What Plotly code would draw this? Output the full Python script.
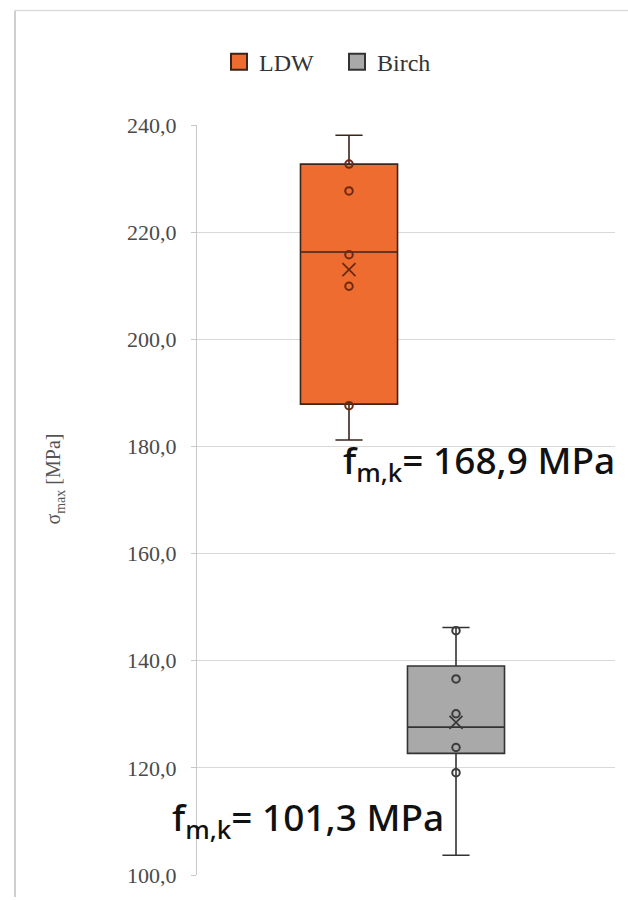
import plotly.graph_objects as go

# Bending strength results, box statistics per material (MPa)
series = ["LDW", "Birch"]
q1 = [187.9, 122.7]
median = [216.3, 127.6]
q3 = [232.7, 139.0]
lower_whisker = [181.2, 103.7]
upper_whisker = [238.1, 146.2]
mean = [213.0, 128.5]

# Individual specimen values shown inside the boxes
ldw_points = [232.7, 227.7, 215.8, 209.9, 187.6]
birch_points = [145.6, 136.6, 130.1, 123.8, 119.1]

# Characteristic values quoted next to each box
fmk = [168.9, 101.3]

fill_colors = ["#ee6c30", "#a9a9a9"]
edge_colors = ["#3b2418", "#333333"]
point_colors = ["#6b2a10", "#3a3a3a"]

serif = "Liberation Serif, Times New Roman, serif"

fig = go.Figure()

for i, name in enumerate(series):
    fig.add_trace(go.Box(
        name=name,
        x=[i],
        q1=[q1[i]], median=[median[i]], q3=[q3[i]],
        lowerfence=[lower_whisker[i]], upperfence=[upper_whisker[i]],
        boxmean=False,
        width=0.907,
        whiskerwidth=0.28,
        fillcolor=fill_colors[i],
        line=dict(color=edge_colors[i], width=1.6),
        boxpoints=False,
        hoverinfo="skip",
        showlegend=False,
    ))

for i, pts in enumerate([ldw_points, birch_points]):
    fig.add_trace(go.Scatter(
        x=[i] * len(pts), y=pts, mode="markers",
        marker=dict(symbol="circle-open", size=7.5,
                    line=dict(color=point_colors[i], width=2),
                    color=point_colors[i]),
        showlegend=False, hoverinfo="skip",
    ))
    fig.add_trace(go.Scatter(
        x=[i], y=[mean[i]], mode="markers",
        marker=dict(symbol="x-thin-open", size=13, color=point_colors[i],
                    line=dict(color=point_colors[i], width=1.8)),
        showlegend=False, hoverinfo="skip",
    ))

# Legend entries: filled squares with dark outline
for i, name in enumerate(series):
    fig.add_trace(go.Scatter(
        x=[None], y=[None], mode="markers", name=name,
        marker=dict(symbol="square", size=16, color=fill_colors[i],
                    line=dict(color=edge_colors[i], width=2)),
        showlegend=True, hoverinfo="skip",
    ))

label_font = dict(family="Noto Sans", size=37, color="#111111", weight=500)
fig.add_annotation(
    text=f"f<sub>m,k</sub>= {fmk[0]:.1f}".replace(".", ",") + " MPa",
    xref="paper", yref="paper", x=(341 - 197) / 418, y=(878 - 463) / 753,
    xanchor="left", yanchor="middle", showarrow=False, font=label_font,
)
fig.add_annotation(
    text=f"f<sub>m,k</sub>= {fmk[1]:.1f}".replace(".", ",") + " MPa",
    xref="paper", yref="paper", x=(170 - 197) / 418, y=(878 - 822) / 753,
    xanchor="left", yanchor="middle", showarrow=False, font=label_font,
)

# Rotated axis title
fig.add_annotation(
    text="σ<sub>max</sub> [MPa]",
    xref="paper", yref="paper", x=(55 - 197) / 418, y=(878 - 481) / 753,
    xanchor="center", yanchor="middle", textangle=-90, showarrow=False,
    font=dict(family=serif, size=20, color="#555555"),
)

# Outer frame
fig.add_shape(type="line", xref="paper", yref="paper",
              x0=(15 - 197) / 418, x1=(15 - 197) / 418,
              y0=(878 - 10) / 753, y1=(878 - 900) / 753,
              line=dict(color="#cfcfcf", width=2))
fig.add_shape(type="line", xref="paper", yref="paper",
              x0=(15 - 197) / 418, x1=(628 - 197) / 418,
              y0=(878 - 10) / 753, y1=(878 - 10) / 753,
              line=dict(color="#dcdcdc", width=1.5))

fig.update_layout(
    width=628, height=900,
    margin=dict(l=197, r=13, t=125, b=22),
    paper_bgcolor="white", plot_bgcolor="white",
    separators=",.",
    legend=dict(orientation="h", x=(219 - 197) / 418, y=(878 - 62) / 753,
                xanchor="left", yanchor="middle",
                font=dict(family=serif, size=24, color="#333333"),
                itemwidth=30, entrywidth=73, entrywidthmode="pixels"),
    xaxis=dict(range=[-1.4206, 2.4860], showticklabels=False, showgrid=False,
               zeroline=False, showline=False, ticks=""),
    yaxis=dict(range=[100, 240], dtick=20, tickformat=".1f",
               showgrid=True, gridcolor="#d9d9d9", gridwidth=1,
               showline=True, linecolor="#c8c8c8", linewidth=1,
               ticks="outside", ticklen=5, tickcolor="#c8c8c8",
               zeroline=False, ticklabelstandoff=10,
               tickfont=dict(family=serif, size=22, color="#4a4a4a")),
)

fig.write_html("out.html")
